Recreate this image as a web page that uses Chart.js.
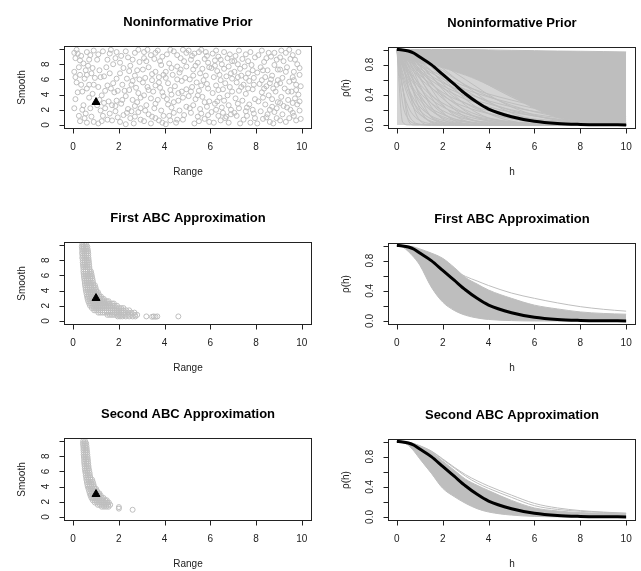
<!DOCTYPE html>
<html>
<head>
<meta charset="utf-8">
<script src="https://cdn.jsdelivr.net/npm/chart.js@4.4.1/dist/chart.umd.min.js"></script>
<style>
body { margin: 0; background: #fff; width: 641px; height: 571px; overflow: hidden; position: relative; }
canvas { position: absolute; }
</style>
</head>
<body>
<canvas id="p1" width="320" height="190" style="left:0;top:0"></canvas>
<canvas id="p2" width="321" height="190" style="left:320px;top:0"></canvas>
<canvas id="p3" width="320" height="190" style="left:0;top:196px"></canvas>
<canvas id="p4" width="321" height="190" style="left:320px;top:196px"></canvas>
<canvas id="p5" width="320" height="190" style="left:0;top:392px"></canvas>
<canvas id="p6" width="321" height="190" style="left:320px;top:392px"></canvas>
<script>
// ---- tick labels ----
const rangeTicks = [0, 2, 4, 6, 8, 10];
const smoothTicks = [0, 2, 4, 6, 8, 10];
const smoothLabels = [0, 2, 4, 6, 8];
const rhoTicks = [0, 0.2, 0.4, 0.6, 0.8, 1];
const rhoLabels = [0, 0.4, 0.8];

// true parameter (triangle)
const trueRange = 1;
const trueSmooth = 3;

// distances h where the correlation curves are read
const hGrid = [0, 0.25, 0.5, 0.75, 1, 1.5, 2, 2.5, 3, 3.5, 4, 5, 6, 7, 8, 9, 10];

// true correlation function (thick black)
const trueCorr = [1, 0.995, 0.98, 0.95, 0.9, 0.8, 0.67, 0.54, 0.41, 0.3, 0.21, 0.11, 0.05, 0.02, 0.008, 0.003, 0.001];

// prior draws: dense upper block + sparser curves underneath
const priorUpper = [1, 1, 1, 1, 1, 1, 1, 1, 1, 0.998, 0.995, 0.99, 0.985, 0.98, 0.977, 0.973, 0.968];
const priorLower = [1, 0.86, 0.85, 0.84, 0.82, 0.8, 0.76, 0.71, 0.66, 0.6, 0.53, 0.38, 0.22, 0.1, 0.05, 0.02, 0];
const priorCurves = [
  [1, 0.04, 0, 0, 0, 0, 0, 0, 0, 0, 0, 0, 0, 0, 0, 0, 0],
  [1, 0.29, 0.08, 0.02, 0.007, 0, 0, 0, 0, 0, 0, 0, 0, 0, 0, 0, 0],
  [1, 0.49, 0.24, 0.12, 0.06, 0.014, 0.003, 0, 0, 0, 0, 0, 0, 0, 0, 0, 0],
  [1, 0.61, 0.37, 0.22, 0.14, 0.05, 0.02, 0.007, 0, 0, 0, 0, 0, 0, 0, 0, 0],
  [1, 0.66, 0.43, 0.29, 0.19, 0.08, 0.036, 0.015, 0.007, 0.003, 0, 0, 0, 0, 0, 0, 0],
  [1, 0.7, 0.49, 0.34, 0.24, 0.12, 0.06, 0.03, 0.014, 0.007, 0.003, 0, 0, 0, 0, 0, 0],
  [1, 0.76, 0.57, 0.43, 0.33, 0.19, 0.11, 0.06, 0.04, 0.02, 0.01, 0, 0, 0, 0, 0, 0],
  [1, 0.78, 0.61, 0.47, 0.37, 0.22, 0.14, 0.08, 0.05, 0.03, 0.018, 0.007, 0.002, 0, 0, 0, 0],
  [1, 0.81, 0.66, 0.54, 0.43, 0.29, 0.19, 0.12, 0.08, 0.05, 0.04, 0.015, 0.007, 0, 0, 0, 0],
  [1, 0.84, 0.7, 0.59, 0.49, 0.34, 0.24, 0.17, 0.12, 0.08, 0.057, 0.028, 0.014, 0.007, 0.003, 0, 0],
  [1, 0.86, 0.73, 0.63, 0.54, 0.39, 0.29, 0.21, 0.15, 0.11, 0.08, 0.04, 0.02, 0.01, 0.007, 0, 0],
  [1, 0.89, 0.79, 0.7, 0.62, 0.49, 0.39, 0.3, 0.24, 0.19, 0.15, 0.09, 0.06, 0.036, 0.02, 0.014, 0.009],
  [1, 0.9, 0.81, 0.73, 0.66, 0.54, 0.43, 0.35, 0.29, 0.23, 0.19, 0.12, 0.08, 0.054, 0.036, 0.024, 0.016],
  [1, 0.91, 0.84, 0.76, 0.7, 0.59, 0.49, 0.41, 0.34, 0.29, 0.24, 0.17, 0.12, 0.08, 0.06, 0.04, 0.03],
  [1, 0.92, 0.85, 0.79, 0.72, 0.62, 0.52, 0.45, 0.38, 0.32, 0.28, 0.2, 0.14, 0.1, 0.076, 0.055, 0.04],
  [1, 0.93, 0.87, 0.81, 0.75, 0.65, 0.56, 0.49, 0.42, 0.37, 0.32, 0.24, 0.18, 0.14, 0.1, 0.08, 0.06],
  [1, 0.94, 0.88, 0.83, 0.78, 0.69, 0.61, 0.54, 0.47, 0.42, 0.37, 0.29, 0.22, 0.17, 0.14, 0.1, 0.08],
  [1, 0.95, 0.9, 0.85, 0.8, 0.72, 0.64, 0.57, 0.51, 0.46, 0.41, 0.33, 0.26, 0.21, 0.17, 0.14, 0.11],
  [1, 0.5, 0.155, 0.04, 0.01, 0, 0, 0, 0, 0, 0, 0, 0, 0, 0, 0, 0],
  [1, 0.8, 0.5, 0.287, 0.155, 0.04, 0.01, 0, 0, 0, 0, 0, 0, 0, 0, 0, 0],
  [1, 0.87, 0.645, 0.44, 0.287, 0.11, 0.04, 0.013, 0.005, 0, 0, 0, 0, 0, 0, 0, 0],
  [1, 0.91, 0.736, 0.558, 0.406, 0.199, 0.092, 0.04, 0.017, 0.007, 0.003, 0, 0, 0, 0, 0, 0],
  [1, 0.935, 0.8, 0.645, 0.5, 0.287, 0.155, 0.08, 0.04, 0.02, 0.01, 0.002, 0, 0, 0, 0, 0],
  [1, 0.955, 0.855, 0.736, 0.615, 0.406, 0.255, 0.155, 0.092, 0.053, 0.03, 0.01, 0, 0, 0, 0, 0],
  [1, 0.968, 0.89, 0.8, 0.69, 0.5, 0.35, 0.235, 0.155, 0.1, 0.065, 0.025, 0.01, 0.004, 0, 0, 0],
  [1, 0.974, 0.91, 0.827, 0.736, 0.558, 0.406, 0.287, 0.199, 0.136, 0.092, 0.04, 0.017, 0.007, 0.003, 0, 0],
  [1, 0.98, 0.935, 0.87, 0.8, 0.645, 0.5, 0.37, 0.287, 0.21, 0.155, 0.08, 0.04, 0.02, 0.01, 0.005, 0.002],
  [1, 0.985, 0.95, 0.9, 0.84, 0.71, 0.58, 0.47, 0.37, 0.287, 0.22, 0.126, 0.07, 0.04, 0.02, 0.012, 0.006],
  [1, 0.99, 0.963, 0.925, 0.875, 0.77, 0.66, 0.55, 0.46, 0.37, 0.3, 0.19, 0.12, 0.073, 0.045, 0.027, 0.016],
  [1, 0.992, 0.972, 0.94, 0.9, 0.81, 0.72, 0.62, 0.53, 0.45, 0.38, 0.26, 0.175, 0.115, 0.077, 0.05, 0.033],
  [1, 0.5, 0.06, 0, 0, 0, 0, 0, 0, 0, 0, 0, 0, 0, 0, 0, 0],
  [1, 0.84, 0.5, 0.21, 0.06, 0, 0, 0, 0, 0, 0, 0, 0, 0, 0, 0, 0],
  [1, 0.91, 0.68, 0.41, 0.21, 0.03, 0.002, 0, 0, 0, 0, 0, 0, 0, 0, 0, 0],
  [1, 0.94, 0.78, 0.57, 0.37, 0.105, 0.018, 0, 0, 0, 0, 0, 0, 0, 0, 0, 0],
  [1, 0.96, 0.85, 0.7, 0.53, 0.24, 0.077, 0.018, 0.003, 0, 0, 0, 0, 0, 0, 0, 0],
  [1, 0.97, 0.89, 0.78, 0.64, 0.37, 0.17, 0.06, 0.018, 0, 0, 0, 0, 0, 0, 0, 0],
  [1, 0.98, 0.92, 0.83, 0.72, 0.48, 0.27, 0.13, 0.053, 0.018, 0.005, 0, 0, 0, 0, 0, 0],
  [1, 0.98, 0.94, 0.87, 0.78, 0.57, 0.37, 0.21, 0.105, 0.047, 0.018, 0, 0, 0, 0, 0, 0],
  [1, 0.99, 0.95, 0.9, 0.83, 0.65, 0.47, 0.31, 0.18, 0.1, 0.048, 0.009, 0, 0, 0, 0, 0],
  [1, 0.99, 0.96, 0.92, 0.86, 0.72, 0.55, 0.4, 0.26, 0.16, 0.094, 0.025, 0.005, 0, 0, 0, 0],
  [1, 0.99, 0.97, 0.935, 0.89, 0.77, 0.62, 0.48, 0.34, 0.23, 0.15, 0.051, 0.014, 0.003, 0, 0, 0],
  [1, 0.994, 0.977, 0.95, 0.91, 0.81, 0.69, 0.56, 0.44, 0.32, 0.23, 0.1, 0.037, 0.011, 0.003, 0, 0],
  [1, 0.995, 0.98, 0.96, 0.93, 0.85, 0.75, 0.63, 0.52, 0.41, 0.31, 0.16, 0.072, 0.028, 0.009, 0.003, 0.001],
  [1, 0.996, 0.986, 0.97, 0.945, 0.88, 0.8, 0.7, 0.6, 0.5, 0.4, 0.24, 0.13, 0.062, 0.026, 0.01, 0.003],
  [1, 0.997, 0.99, 0.978, 0.96, 0.91, 0.85, 0.78, 0.7, 0.61, 0.53, 0.37, 0.24, 0.14, 0.077, 0.04, 0.018]
];

// first ABC approximation: band of accepted curves + a stray one
const abc1Upper = [1, 1, 0.995, 0.98, 0.955, 0.9, 0.83, 0.71, 0.575, 0.49, 0.41, 0.3, 0.21, 0.16, 0.12, 0.1, 0.09];
const abc1Lower = [1, 0.98, 0.92, 0.84, 0.74, 0.45, 0.25, 0.14, 0.075, 0.04, 0.02, 0.005, 0, 0, 0, 0, 0];
const abc1Lines = [
  [1, 0.995, 0.985, 0.97, 0.94, 0.87, 0.77, 0.67, 0.59, 0.53, 0.47, 0.37, 0.3, 0.24, 0.19, 0.155, 0.13]
];

// second ABC approximation
const abc2Upper = [1, 1, 0.99, 0.97, 0.94, 0.86, 0.74, 0.62, 0.5, 0.42, 0.35, 0.22, 0.12, 0.08, 0.058, 0.048, 0.04];
const abc2Lower = [1, 0.985, 0.95, 0.87, 0.77, 0.58, 0.38, 0.27, 0.18, 0.11, 0.066, 0.025, 0.008, 0.002, 0, 0, 0];
const abc2Lines = [
  [1, 0.995, 0.985, 0.965, 0.94, 0.87, 0.76, 0.65, 0.54, 0.45, 0.38, 0.26, 0.15, 0.1, 0.075, 0.06, 0.048],
  [1, 0.995, 0.985, 0.97, 0.945, 0.875, 0.77, 0.66, 0.56, 0.48, 0.41, 0.29, 0.18, 0.12, 0.085, 0.065, 0.05]
];

// prior sample [range, smooth]
const priorPoints = [
  [0.05,9.5],[0.2,9.4],[0.1,8.8],[0.3,8.5],[0.6,9.6],[0.9,9.8],[0.75,9.2],[0.45,8.1],[0.65,7.8],[0.85,7.5],[0.55,7.2],[0.05,7.0],[0.3,6.6],[0.5,6.1],[0.9,5.3],[0.7,5.3],[0.2,4.3],[0.4,4.4],[0.05,2.2],[0.4,2.0],[0.55,1.5],[0.3,0.5],[0.6,0.3],[0.8,1.1],[0.45,2.6],[0.95,6.2],[0.15,5.6],
  [1.1,9.3],[1.3,9.7],[1.05,8.6],[1.6,9.4],[1.9,9.6],[1.45,7.6],[1.2,6.3],[1.35,6.4],[1.75,8.0],[1.5,5.2],[1.65,4.8],[1.8,4.3],[1.95,4.5],[1.25,3.9],[1.55,3.1],[1.4,2.2],[1.7,2.6],[1.85,2.5],[1.2,1.9],[1.6,1.5],[1.3,1.2],[1.95,1.0],[1.1,0.2],[1.7,0.6],[1.9,3.2],[1.75,5.5],
  [2.1,9.1],[2.4,8.9],[2.7,9.5],[2.9,8.3],[2.2,7.5],[2.5,7.8],[2.8,7.2],[2.05,6.8],[2.35,6.1],[2.6,5.8],[2.9,6.0],[2.15,5.3],[2.45,4.6],[2.75,4.9],[2.3,3.8],[2.6,3.3],[2.95,3.6],[2.1,2.8],[2.4,2.1],[2.7,2.5],[2.85,1.7],[2.2,1.3],[2.5,0.9],[2.05,0.4],[2.65,0.2],[2.95,0.7],[2.55,1.8],
  [3.1,9.6],[3.4,9.2],[3.7,9.8],[3.9,9.0],[3.2,8.4],[3.55,8.7],[3.85,7.9],[3.05,7.3],[3.3,7.6],[3.6,7.0],[3.95,6.6],[3.15,6.2],[3.45,5.9],[3.75,5.6],[3.25,5.0],[3.5,4.4],[3.8,4.9],[3.1,3.9],[3.4,3.5],[3.7,3.3],[3.95,3.8],[3.2,2.6],[3.55,2.2],[3.85,1.9],[3.3,1.4],[3.6,0.9],[3.1,0.5],[3.9,0.3],[3.45,1.1],
  [4.1,9.3],[4.4,9.7],[4.7,8.8],[4.95,9.5],[4.2,8.1],[4.55,7.7],[4.85,8.4],[4.05,7.0],[4.35,6.6],[4.65,6.9],[4.9,6.2],[4.15,5.5],[4.45,5.1],[4.75,5.8],[4.25,4.6],[4.6,4.2],[4.95,4.7],[4.1,3.4],[4.4,3.0],[4.8,3.6],[4.3,2.3],[4.65,1.9],[4.95,2.4],[4.2,1.2],[4.55,0.7],[4.85,1.3],[4.05,0.1],[4.5,0.3],
  [5.05,9.8],[5.3,9.4],[5.6,9.9],[5.85,9.1],[5.15,8.6],[5.45,8.2],[5.75,8.7],[5.95,7.6],[5.25,7.3],[5.55,6.8],[5.8,6.5],[5.1,6.0],[5.4,5.6],[5.7,5.9],[5.2,5.0],[5.5,4.5],[5.9,4.8],[5.05,3.8],[5.35,3.4],[5.65,3.7],[5.95,3.1],[5.25,2.6],[5.55,2.1],[5.85,2.4],[5.15,1.6],[5.45,1.1],[5.75,0.8],[5.3,0.2],[5.95,0.4],
  [6.1,9.4],[6.35,9.0],[6.6,9.6],[6.85,9.3],[6.2,8.5],[6.5,8.0],[6.75,8.8],[6.05,7.5],[6.3,7.1],[6.6,7.4],[6.9,6.8],[6.15,6.3],[6.45,5.9],[6.7,6.4],[6.25,5.2],[6.55,4.7],[6.85,5.0],[6.1,4.2],[6.4,3.6],[6.75,3.9],[6.2,2.8],[6.5,2.3],[6.8,2.6],[6.05,1.7],[6.35,1.2],[6.65,0.9],[6.9,1.4],[6.15,0.3],[6.7,1.1],[6.45,0.6],
  [7.1,9.1],[7.4,8.7],[7.75,9.6],[7.95,8.9],[7.2,8.0],[7.5,7.7],[7.8,7.9],[7.05,7.0],[7.35,6.5],[7.65,6.8],[7.9,6.2],[7.15,5.6],[7.45,5.3],[7.7,5.8],[7.25,4.5],[7.55,4.1],[7.85,4.7],[7.1,3.5],[7.4,3.2],[7.7,2.7],[7.95,3.4],[7.25,2.2],[7.55,1.8],[7.85,2.0],[7.15,1.2],[7.45,0.7],[7.75,0.3],[7.95,0.9],[7.3,0.2],
  [8.1,9.2],[8.35,8.3],[8.65,9.0],[8.9,8.6],[8.2,7.6],[8.5,7.2],[8.8,7.9],[8.05,6.9],[8.4,6.3],[8.7,6.5],[8.95,5.9],[8.15,5.4],[8.45,5.1],[8.75,4.8],[8.25,4.3],[8.55,3.9],[8.85,4.4],[8.1,3.1],[8.4,2.7],[8.7,2.4],[8.95,3.0],[8.2,1.8],[8.5,1.4],[8.8,1.7],[8.3,0.8],[8.6,0.4],[8.9,0.9],[8.05,0.2],
  [9.1,9.8],[9.3,9.5],[9.6,9.2],[9.85,9.6],[9.2,8.4],[9.5,8.7],[9.8,8.0],[9.05,7.3],[9.35,7.6],[9.65,7.0],[9.9,6.6],[9.15,6.2],[9.45,5.7],[9.75,5.3],[9.95,5.1],[9.25,4.8],[9.55,4.4],[9.85,4.0],[9.1,3.7],[9.4,3.3],[9.7,3.5],[9.9,3.1],[9.2,2.5],[9.5,2.0],[9.8,2.7],[9.15,1.4],[9.45,0.9],[9.75,0.6],[9.3,0.4],[9.95,0.8],[9.6,1.6],
  [0.15,9.9],[0.35,9.1],[0.7,8.6],[0.25,7.6],[0.8,6.8],[0.6,6.6],[0.1,6.3],[0.35,5.3],[0.6,4.8],[0.85,4.1],[0.1,3.4],[0.7,3.6],[0.25,1.2],[0.9,0.4],[0.5,0.9],[0.75,2.2],
  [1.15,7.2],[1.5,8.6],[1.85,8.8],[1.1,5.0],[1.4,4.5],[1.6,6.8],[1.9,6.1],[1.35,2.9],[1.15,3.3],[1.5,0.7],[1.85,1.8],[1.25,0.5],[1.65,9.9],[1.05,2.6],
  [2.3,9.7],[2.6,8.6],[2.85,9.9],[2.05,8.2],[2.45,7.1],[2.7,6.5],[2.25,4.5],[2.55,5.3],[2.85,4.2],[2.15,3.3],[2.8,3.0],[2.35,1.6],[2.7,1.1],[2.95,2.2],[2.3,0.1],
  [3.25,9.9],[3.6,9.5],[3.8,8.4],[3.1,8.8],[3.45,6.7],[3.75,6.3],[3.05,5.6],[3.6,5.2],[3.9,4.3],[3.3,4.6],[3.6,2.8],[3.15,1.9],[3.95,1.2],[3.75,0.6],[3.4,0.2],
  [4.25,9.9],[4.55,9.2],[4.8,9.9],[4.3,7.5],[4.7,7.3],[4.95,7.7],[4.05,6.2],[4.55,6.0],[4.3,4.0],[4.75,4.4],[4.15,2.7],[4.6,3.2],[4.4,1.6],[4.8,0.7],[4.25,0.6],
  [5.2,9.1],[5.5,9.6],[5.8,9.6],[5.35,7.8],[5.65,7.4],[5.9,8.2],[5.25,6.5],[5.85,5.4],[5.6,5.2],[5.15,4.4],[5.45,3.9],[5.75,3.0],[5.1,2.2],[5.6,1.5],[5.9,1.3],[5.5,0.5],
  [6.25,9.8],[6.45,8.6],[6.95,8.4],[6.2,7.8],[6.8,7.7],[6.4,6.6],[6.95,6.1],[6.35,4.6],[6.65,5.5],[6.95,4.4],[6.3,3.1],[6.6,3.2],[6.9,2.0],[6.25,2.0],[6.55,1.6],[6.8,0.3],
  [7.25,9.8],[7.55,9.3],[7.05,8.4],[7.65,8.4],[7.3,7.4],[7.85,7.2],[7.55,6.2],[7.2,6.3],[7.9,5.3],[7.35,5.0],[7.65,4.8],[7.2,2.8],[7.6,2.3],[7.05,1.6],[7.6,1.2],[7.9,1.5],
  [8.25,9.8],[8.55,9.5],[8.8,9.5],[8.45,8.8],[8.95,7.3],[8.3,7.2],[8.65,6.0],[8.25,5.9],[8.6,5.5],[8.9,5.3],[8.35,4.8],[8.7,3.4],[8.3,3.6],[8.6,2.0],[8.9,2.2],[8.45,1.0],[8.75,0.2],
  [9.45,9.9],[9.7,8.6],[9.05,8.9],[9.9,7.5],[9.3,7.0],[9.6,6.3],[9.05,5.5],[9.65,5.9],[9.4,4.4],[9.75,4.6],[9.6,2.9],[9.05,2.9],[9.35,2.3],[9.65,1.2],[9.9,1.9],[9.05,0.6]
];

// accepted samples, listed row by row: [smooth, [range values]]
const abc1Rows = [
  [10.1, [0.40, 0.48, 0.56]],
  [9.8, [0.38, 0.46, 0.55, 0.62]],
  [9.5, [0.39, 0.47, 0.56, 0.63]],
  [9.2, [0.40, 0.49, 0.57, 0.65]],
  [8.9, [0.39, 0.48, 0.57, 0.66]],
  [8.6, [0.41, 0.50, 0.58, 0.66]],
  [8.3, [0.40, 0.49, 0.58, 0.67]],
  [8.0, [0.42, 0.51, 0.60, 0.68]],
  [7.7, [0.42, 0.51, 0.60, 0.69]],
  [7.4, [0.43, 0.52, 0.61, 0.70]],
  [7.1, [0.44, 0.53, 0.62, 0.71]],
  [6.8, [0.45, 0.54, 0.63, 0.72]],
  [6.5, [0.45, 0.54, 0.63, 0.72, 0.78]],
  [6.2, [0.46, 0.55, 0.64, 0.73, 0.80]],
  [5.9, [0.47, 0.56, 0.65, 0.74, 0.82]],
  [5.6, [0.48, 0.57, 0.66, 0.75, 0.84]],
  [5.3, [0.50, 0.59, 0.68, 0.77, 0.86]],
  [5.0, [0.51, 0.60, 0.69, 0.78, 0.87]],
  [4.7, [0.52, 0.61, 0.70, 0.79, 0.88, 0.95]],
  [4.4, [0.54, 0.63, 0.72, 0.81, 0.90, 0.98]],
  [4.1, [0.55, 0.64, 0.73, 0.82, 0.91, 1.00]],
  [3.8, [0.57, 0.66, 0.75, 0.84, 0.93, 1.02, 1.08]],
  [3.5, [0.59, 0.68, 0.77, 0.86, 0.95, 1.04, 1.12]],
  [3.2, [0.61, 0.70, 0.79, 0.88, 0.97, 1.06, 1.15, 1.22]],
  [2.9, [0.63, 0.72, 0.81, 0.90, 0.99, 1.08, 1.17, 1.26, 1.34]],
  [2.6, [0.66, 0.75, 0.84, 0.93, 1.02, 1.11, 1.20, 1.29, 1.38, 1.47, 1.55]],
  [2.3, [0.70, 0.79, 0.88, 0.97, 1.06, 1.15, 1.24, 1.33, 1.42, 1.51, 1.60, 1.70, 1.78]],
  [2.0, [0.74, 0.83, 0.92, 1.01, 1.10, 1.19, 1.28, 1.37, 1.46, 1.55, 1.64, 1.73, 1.82, 1.92]],
  [1.7, [0.82, 0.91, 1.00, 1.09, 1.18, 1.27, 1.36, 1.45, 1.54, 1.63, 1.72, 1.81, 1.90, 2.00, 2.10, 2.20]],
  [1.4, [0.92, 1.01, 1.10, 1.19, 1.28, 1.37, 1.46, 1.55, 1.64, 1.73, 1.82, 1.91, 2.00, 2.10, 2.20, 2.32, 2.45]],
  [1.1, [1.10, 1.19, 1.28, 1.37, 1.46, 1.55, 1.64, 1.73, 1.82, 1.91, 2.00, 2.10, 2.20, 2.30, 2.42, 2.55, 2.68]],
  [0.8, [1.50, 1.60, 1.70, 1.80, 1.90, 2.00, 2.10, 2.20, 2.30, 2.42, 2.55, 2.70, 2.80]],
  [0.6, [1.95, 2.05, 2.15, 2.30, 2.45, 2.60, 2.72, 3.20, 3.52, 3.68, 4.60]],
  [0.55, [3.45, 3.60]]
];

const abc2Rows = [
  [10.0, [0.44, 0.52]],
  [9.7, [0.43, 0.51, 0.57]],
  [9.4, [0.44, 0.52, 0.58]],
  [9.1, [0.45, 0.53, 0.59]],
  [8.8, [0.45, 0.53, 0.60]],
  [8.5, [0.46, 0.54, 0.61]],
  [8.2, [0.46, 0.54, 0.62]],
  [7.9, [0.47, 0.55, 0.63]],
  [7.6, [0.48, 0.56, 0.64]],
  [7.3, [0.48, 0.57, 0.65]],
  [7.0, [0.49, 0.58, 0.66]],
  [6.7, [0.50, 0.59, 0.67]],
  [6.4, [0.51, 0.60, 0.68]],
  [6.1, [0.52, 0.61, 0.70]],
  [5.8, [0.54, 0.63, 0.72]],
  [5.5, [0.55, 0.64, 0.73]],
  [5.2, [0.57, 0.66, 0.75]],
  [4.9, [0.58, 0.67, 0.76, 0.83]],
  [4.6, [0.60, 0.69, 0.78, 0.86]],
  [4.3, [0.62, 0.71, 0.80, 0.89]],
  [4.0, [0.64, 0.73, 0.82, 0.91]],
  [3.7, [0.67, 0.76, 0.85, 0.94, 1.00]],
  [3.4, [0.70, 0.79, 0.88, 0.97, 1.05]],
  [3.1, [0.73, 0.82, 0.91, 1.00, 1.09, 1.15]],
  [2.8, [0.76, 0.85, 0.94, 1.03, 1.12, 1.21]],
  [2.5, [0.80, 0.89, 0.98, 1.07, 1.16, 1.25, 1.33]],
  [2.2, [0.86, 0.95, 1.04, 1.13, 1.22, 1.31, 1.40, 1.47]],
  [1.9, [0.95, 1.04, 1.13, 1.22, 1.31, 1.40, 1.49, 1.56]],
  [1.6, [1.08, 1.17, 1.26, 1.35, 1.44, 1.53, 1.62]],
  [1.35, [1.25, 1.35, 1.45, 1.55]],
  [1.3, [2.0]],
  [1.1, [2.0]],
  [0.95, [2.6]]
];

const GRAY = '#bebebe';
const LIGHT_GRAY = '#d4d4d4';
const FONT = '"Liberation Sans", Arial, Helvetica, sans-serif';

function toXY(values) {
  return hGrid.map((h, i) => ({ x: h, y: values[i] }));
}

function rowsToXY(rows) {
  const pts = [];
  rows.forEach(([s, rs]) => rs.forEach(r => pts.push({ x: r, y: s })));
  return pts;
}

function curve(values, extra) {
  return Object.assign({
    data: toXY(values),
    borderColor: GRAY,
    borderWidth: 1,
    pointRadius: 0,
    fill: false,
    order: 1
  }, extra || {});
}

function scatterSet(points) {
  return {
    data: points,
    showLine: false,
    pointRadius: 2.5,
    pointBorderWidth: 1,
    pointBorderColor: GRAY,
    pointBackgroundColor: 'rgba(0,0,0,0)',
    borderColor: GRAY,
    order: 1
  };
}

function triangleSet() {
  return {
    data: [{ x: trueRange, y: trueSmooth }],
    showLine: false,
    pointStyle: 'triangle',
    pointRadius: 4.6,
    pointBorderWidth: 1,
    pointBorderColor: '#000',
    pointBackgroundColor: '#000',
    order: 0
  };
}

function trueSet() {
  return curve(trueCorr, { borderColor: '#000', borderWidth: 3, order: 0 });
}

// dense band between two envelopes; optionally a lighter zone below it
function bandSets(upper, lower, underFill) {
  return [
    curve(upper, { backgroundColor: GRAY, fill: '+1', order: 2 }),
    curve(lower, underFill ? { backgroundColor: underFill, fill: 'origin', order: 3 } : { order: 2 })
  ];
}

// draws the R style box, ticks, tick labels, axis titles and main title
function makePanel(id, spec) {
  const rAxes = {
    id: 'rAxes',
    afterDraw(chart) {
      const { ctx, chartArea: a, scales: { x, y } } = chart;
      const L = Math.round(a.left) + 0.5, R = Math.round(a.right) + 0.5;
      const T = Math.round(a.top) + 0.5, B = Math.round(a.bottom) + 0.5;
      ctx.save();
      ctx.strokeStyle = '#222';
      ctx.fillStyle = '#222';
      ctx.lineWidth = 1;
      ctx.strokeRect(L, T, R - L, B - T);
      ctx.beginPath();
      rangeTicks.forEach(v => {
        const px = Math.round(x.getPixelForValue(v)) + 0.5;
        ctx.moveTo(px, B); ctx.lineTo(px, B + 5);
      });
      spec.yTicks.forEach(v => {
        const py = Math.round(y.getPixelForValue(v)) + 0.5;
        ctx.moveTo(L - 5, py); ctx.lineTo(L, py);
      });
      ctx.stroke();

      ctx.font = '10px ' + FONT;
      ctx.textAlign = 'center';
      ctx.textBaseline = 'middle';
      rangeTicks.forEach(v => ctx.fillText(String(v), x.getPixelForValue(v), B + 18.5));
      spec.yLabels.forEach(v => {
        ctx.save();
        ctx.translate(L - 18.5, y.getPixelForValue(v));
        ctx.rotate(-Math.PI / 2);
        ctx.fillText(spec.yFmt(v), 0, 0);
        ctx.restore();
      });
      ctx.fillText(spec.xTitle, (L + R) / 2, B + 44);
      ctx.save();
      ctx.translate(L - 42.5, (T + B) / 2);
      ctx.rotate(-Math.PI / 2);
      ctx.fillText(spec.yTitle, 0, 0);
      ctx.restore();

      ctx.fillStyle = '#000';
      ctx.font = 'bold 13px ' + FONT;
      ctx.fillText(spec.title, (L + R) / 2, T - 24);
      ctx.restore();
    }
  };

  return new Chart(document.getElementById(id), {
    type: 'line',
    data: { datasets: spec.datasets },
    options: {
      responsive: false,
      animation: false,
      devicePixelRatio: 1,
      layout: { padding: spec.padding },
      plugins: {
        legend: { display: false },
        tooltip: { enabled: false },
        title: { display: false }
      },
      elements: { line: { cubicInterpolationMode: 'monotone' } },
      scales: {
        x: { type: 'linear', min: -0.4, max: 10.4, display: false },
        y: { type: 'linear', min: spec.yMin, max: spec.yMax, display: false }
      }
    },
    plugins: [rAxes]
  });
}

const leftPad = { left: 64, right: 9, top: 46, bottom: 62 };
const rightPad = { left: 67.7, right: 5.7, top: 46.5, bottom: 62 };
const smoothFmt = v => String(v);
const rhoFmt = v => v.toFixed(1);

function leftPanel(id, title, points) {
  makePanel(id, {
    title, xTitle: 'Range', yTitle: 'Smooth',
    yMin: -0.4, yMax: 10.4, yTicks: smoothTicks, yLabels: smoothLabels, yFmt: smoothFmt,
    padding: leftPad,
    datasets: [triangleSet(), scatterSet(points)]
  });
}

function rightPanel(id, title, datasets) {
  makePanel(id, {
    title, xTitle: 'h', yTitle: 'ρ(h)',
    yMin: -0.04, yMax: 1.04, yTicks: rhoTicks, yLabels: rhoLabels, yFmt: rhoFmt,
    padding: rightPad,
    datasets
  });
}

leftPanel('p1', 'Noninformative Prior', priorPoints.map(p => ({ x: p[0], y: p[1] })));
rightPanel('p2', 'Noninformative Prior',
  [trueSet()].concat(bandSets(priorUpper, priorLower, LIGHT_GRAY), priorCurves.map(c => curve(c))));

leftPanel('p3', 'First ABC Approximation', rowsToXY(abc1Rows));
rightPanel('p4', 'First ABC Approximation',
  [trueSet()].concat(bandSets(abc1Upper, abc1Lower), abc1Lines.map(c => curve(c))));

leftPanel('p5', 'Second ABC Approximation', rowsToXY(abc2Rows));
rightPanel('p6', 'Second ABC Approximation',
  [trueSet()].concat(bandSets(abc2Upper, abc2Lower), abc2Lines.map(c => curve(c))));
</script>
</body>
</html>
